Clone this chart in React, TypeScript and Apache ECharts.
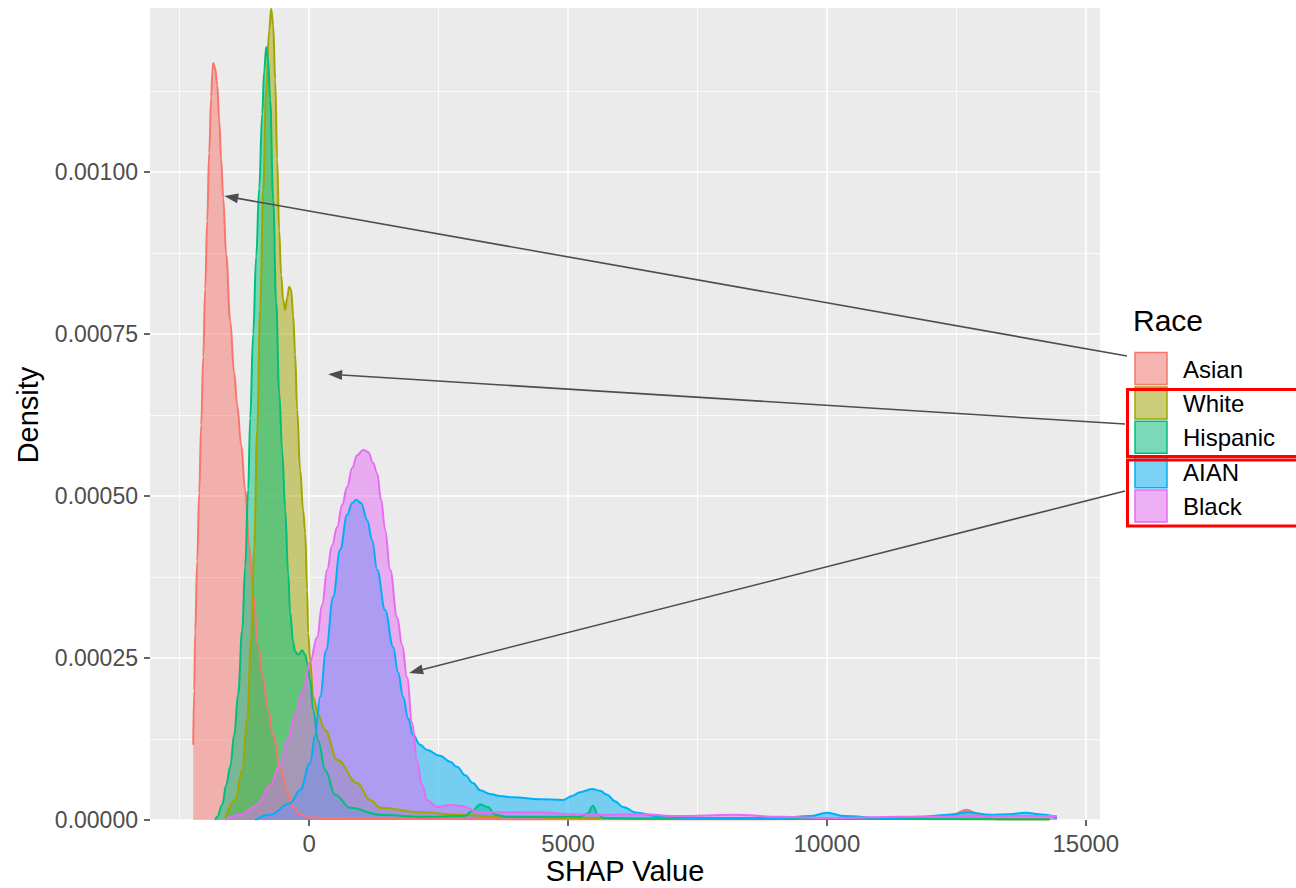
import React, { useEffect, useRef } from 'react';
import * as echarts from 'echarts';

const raceNames = ['Asian', 'White', 'Hispanic', 'AIAN', 'Black'];
const raceColors = ['#F8766D', '#A3A500', '#00BF7D', '#00B0F6', '#E76BF3'];
const raceFills = ['rgba(248,118,109,0.5)', 'rgba(163,165,0,0.5)', 'rgba(0,191,125,0.5)', 'rgba(0,176,246,0.5)', 'rgba(231,107,243,0.5)'];

const asianDensity = [
  [-2239, 116e-6], [-2220, 200e-6], [-2201, 290e-6], [-2162, 400e-6], [-2124, 505e-6], [-2085, 610e-6],
  [-2046, 715e-6], [-2008, 820e-6], [-1969, 925e-6], [-1931, 1030e-6], [-1892, 1115e-6], [-1870, 1155e-6],
  [-1853, 1168e-6], [-1815, 1160e-6], [-1776, 1134e-6], [-1737, 1080e-6], [-1699, 1019e-6], [-1660, 960e-6],
  [-1602, 872e-6], [-1525, 770e-6], [-1448, 690e-6], [-1390, 640e-6], [-1313, 579e-6], [-1236, 509e-6],
  [-1158, 424e-6], [-1081, 347e-6], [-985, 270e-6], [-888, 216e-6], [-792, 170e-6], [-695, 130e-6],
  [-560, 80e-6], [-425, 42e-6], [-290, 19e-6], [-174, 8e-6], [19, 4e-6], [405, 3e-6], [1500, 2e-6],
  [4000, 1e-6], [8000, 1e-6], [12000, 2e-6], [12450, 9e-6], [12700, 16e-6], [12950, 7e-6], [13300, 1e-6],
  [14300, 1e-6],
];

const whiteDensity = [
  [-1622, 3e-6], [-1429, 31e-6], [-1293, 77e-6], [-1197, 154e-6], [-1120, 278e-6], [-1062, 417e-6],
  [-1004, 602e-6], [-946, 787e-6], [-888, 972e-6], [-830, 1127e-6], [-772, 1219e-6], [-734, 1252e-6],
  [-695, 1227e-6], [-656, 1142e-6], [-618, 1019e-6], [-579, 910e-6], [-541, 841e-6], [-502, 802e-6],
  [-463, 787e-6], [-425, 806e-6], [-386, 823e-6], [-347, 818e-6], [-309, 779e-6], [-270, 718e-6],
  [-232, 633e-6], [-174, 540e-6], [-116, 478e-6], [-77, 443e-6], [-39, 355e-6], [-19, 289e-6], [19, 247e-6],
  [77, 190e-6], [174, 162e-6], [309, 139e-6], [541, 93e-6], [927, 57e-6], [1178, 31e-6], [1371, 19e-6],
  [2143, 12e-6], [2915, 8e-6], [3687, 5e-6], [5618, 3e-6], [14300, 1e-6],
];

const hispanicDensity = [
  [-1815, 0], [-1776, 5e-6], [-1680, 23e-6], [-1602, 54e-6], [-1525, 82e-6], [-1448, 131e-6], [-1371, 195e-6],
  [-1293, 293e-6], [-1236, 390e-6], [-1178, 510e-6], [-1139, 620e-6], [-1081, 750e-6], [-1023, 870e-6],
  [-965, 975e-6], [-907, 1090e-6], [-869, 1155e-6], [-830, 1193e-6], [-792, 1173e-6], [-753, 1111e-6],
  [-695, 957e-6], [-637, 800e-6], [-579, 660e-6], [-521, 570e-6], [-463, 480e-6], [-405, 380e-6],
  [-367, 320e-6], [-309, 275e-6], [-270, 260e-6], [-212, 255e-6], [-135, 262e-6], [-77, 255e-6],
  [-39, 244e-6], [19, 216e-6], [77, 170e-6], [174, 123e-6], [309, 77e-6], [502, 39e-6], [792, 19e-6],
  [1371, 8e-6], [2143, 5e-6], [3000, 6e-6], [3150, 14e-6], [3300, 24e-6], [3450, 20e-6], [3600, 8e-6],
  [3800, 5e-6], [5232, 5e-6], [5380, 10e-6], [5480, 22e-6], [5580, 8e-6], [5700, 3e-6], [6583, 2e-6],
  [14300, 1e-6],
];

const aianDensity = [
  [-1042, 0], [-753, 8e-6], [-367, 26e-6], [-174, 46e-6], [19, 88e-6], [116, 131e-6], [212, 190e-6],
  [328, 262e-6], [463, 344e-6], [598, 417e-6], [734, 471e-6], [830, 489e-6], [907, 494e-6], [1004, 489e-6],
  [1120, 463e-6], [1216, 432e-6], [1313, 386e-6], [1467, 324e-6], [1622, 267e-6], [1718, 228e-6],
  [1815, 190e-6], [1911, 157e-6], [2008, 131e-6], [2143, 116e-6], [2278, 108e-6], [2529, 99e-6],
  [2722, 90e-6], [2857, 82e-6], [3012, 69e-6], [3166, 57e-6], [3301, 46e-6], [3494, 40e-6], [3687, 37e-6],
  [3938, 35e-6], [4459, 32e-6], [4903, 31e-6], [5077, 37e-6], [5232, 43e-6], [5463, 48e-6], [5618, 45e-6],
  [5753, 39e-6], [5907, 29e-6], [6062, 20e-6], [6332, 11e-6], [6776, 5e-6], [7548, 3e-6], [8320, 3e-6],
  [9093, 3e-6], [9672, 6e-6], [10000, 11e-6], [10347, 6e-6], [11023, 3e-6], [11795, 5e-6], [12375, 8e-6],
  [12722, 12e-6], [13147, 8e-6], [13533, 9e-6], [13822, 11e-6], [14208, 8e-6], [14440, 3e-6],
];

const blackDensity = [
  [-1622, 0], [-1332, 8e-6], [-1004, 23e-6], [-753, 54e-6], [-560, 85e-6], [-425, 123e-6], [-270, 162e-6],
  [-116, 201e-6], [19, 244e-6], [154, 282e-6], [251, 332e-6], [347, 386e-6], [444, 424e-6], [541, 452e-6],
  [637, 486e-6], [734, 514e-6], [830, 543e-6], [927, 563e-6], [1042, 571e-6], [1139, 568e-6],
  [1236, 551e-6], [1313, 535e-6], [1390, 494e-6], [1467, 448e-6], [1564, 386e-6], [1699, 313e-6],
  [1795, 270e-6], [1892, 220e-6], [1988, 150e-6], [2085, 90e-6], [2181, 54e-6], [2278, 31e-6],
  [2471, 20e-6], [2722, 23e-6], [2915, 22e-6], [3301, 12e-6], [3880, 12e-6], [4459, 12e-6], [5039, 9e-6],
  [5618, 8e-6], [6390, 9e-6], [7162, 6e-6], [8185, 8e-6], [9093, 5e-6], [10058, 3e-6], [11409, 5e-6],
  [12375, 5e-6], [13340, 6e-6], [14440, 6e-6],
];

const densities = [asianDensity, whiteDensity, hispanicDensity, aianDensity, blackDensity];

const xRange = [-3074, 15274];
const yRange = [0, 0.001253];
const xTicks = [0, 5000, 10000, 15000];
const xMinorTicks = [-2500, 2500, 7500, 12500];
const yTicks = [0, 0.00025, 0.0005, 0.00075, 0.001];
const yMinorTicks = [0.000125, 0.000375, 0.000625, 0.000875, 0.001125];

// arrow targets in data coordinates (tips on curves)
const arrowTargets = [[-1641, 963e-6], [367, 688e-6], [1931, 227e-6]];

const FONT = '"Liberation Sans", Arial, Helvetica, sans-serif';

export default function App() {
  const ref = useRef<HTMLDivElement>(null);

  useEffect(() => {
    if (!ref.current) return;
    const chart = echarts.init(ref.current, undefined, { renderer: 'svg' });

    const gridLeft = 150, gridTop = 8, gridW = 950, gridH = 812;

    chart.setOption({
      animation: false,
      backgroundColor: '#FFFFFF',
      grid: {
        left: gridLeft, top: gridTop, width: gridW, height: gridH,
        show: true, backgroundColor: '#EBEBEB', borderWidth: 0,
      },
      xAxis: [
        {
          type: 'value', min: xRange[0], max: xRange[1], position: 'bottom',
          axisLine: { show: false, onZero: false },
          axisTick: { show: true, length: 6, customValues: xTicks, lineStyle: { color: '#333333', width: 1.5 } },
          axisLabel: {
            customValues: xTicks, margin: 11, fontSize: 24, color: '#4D4D4D', fontFamily: FONT,
            formatter: (v: number) => String(v),
          },
          splitLine: { show: true, lineStyle: { color: '#FFFFFF', width: 1.6 } },
        },
        {
          type: 'value', min: xRange[0], max: xRange[1], position: 'bottom',
          axisLine: { show: false, onZero: false },
          axisTick: { show: false, customValues: xMinorTicks },
          axisLabel: { show: false, customValues: xMinorTicks },
          splitLine: { show: true, lineStyle: { color: '#FFFFFF', width: 0.8 } },
        },
      ],
      yAxis: [
        {
          type: 'value', min: yRange[0], max: yRange[1], position: 'left',
          axisLine: { show: false, onZero: false },
          axisTick: { show: true, length: 6, customValues: yTicks, lineStyle: { color: '#333333', width: 1.5 } },
          axisLabel: {
            customValues: yTicks, margin: 12, fontSize: 23, color: '#4D4D4D', fontFamily: FONT,
            formatter: (v: number) => v.toFixed(5),
          },
          splitLine: { show: true, lineStyle: { color: '#FFFFFF', width: 1.6 } },
        },
        {
          type: 'value', min: yRange[0], max: yRange[1], position: 'left',
          axisLine: { show: false, onZero: false },
          axisTick: { show: false, customValues: yMinorTicks },
          axisLabel: { show: false, customValues: yMinorTicks },
          splitLine: { show: true, lineStyle: { color: '#FFFFFF', width: 0.8 } },
        },
      ],
      series: raceNames.map((name, i) => ({
        name,
        type: 'line',
        xAxisIndex: 0,
        yAxisIndex: 0,
        data: densities[i],
        smooth: 0.4,
        smoothMonotone: 'x',
        showSymbol: false,
        symbol: 'none',
        lineStyle: { color: raceColors[i], width: 2 },
        itemStyle: { color: raceColors[i] },
        areaStyle: { color: raceColors[i], opacity: 0.5 },
      })),
    });

    const arrowStarts = [[1127, 356], [1125, 424], [1125, 491]];
    const arrowEls: any[] = [];
    arrowTargets.forEach((t, i) => {
      const tip = chart.convertToPixel({ gridIndex: 0 }, t) as number[];
      const s = arrowStarts[i];
      const dx = tip[0] - s[0], dy = tip[1] - s[1];
      const len = Math.sqrt(dx * dx + dy * dy);
      const ux = dx / len, uy = dy / len;
      const L = 14, W = 5;
      const bx = tip[0] - ux * L, by = tip[1] - uy * L;
      arrowEls.push({
        type: 'line', silent: true, z: 100,
        shape: { x1: s[0], y1: s[1], x2: bx, y2: by },
        style: { stroke: '#4D4D4D', lineWidth: 1.6 },
      });
      arrowEls.push({
        type: 'polygon', silent: true, z: 100,
        shape: { points: [[tip[0], tip[1]], [bx - uy * W, by + ux * W], [bx + uy * W, by - ux * W]] },
        style: { fill: '#4D4D4D' },
      });
    });

    const legendEls: any[] = [];
    legendEls.push({
      type: 'text', left: 1133, top: 305,
      style: { text: 'Race', font: `30px ${FONT}`, fill: '#000000' },
    });
    raceNames.forEach((name, i) => {
      const top = 352 + i * 34.4;
      legendEls.push({
        type: 'rect', shape: { x: 1134.5, y: top, width: 33, height: 33 },
        style: { fill: '#F2F2F2' },
      });
      legendEls.push({
        type: 'rect', shape: { x: 1135, y: top + 0.5, width: 32, height: 32 },
        style: { fill: raceFills[i], stroke: raceColors[i], lineWidth: 1.5 },
      });
      legendEls.push({
        type: 'text', x: 1183, y: top + 17,
        style: { text: name, font: `24px ${FONT}`, fill: '#000000', textAlign: 'left', textVerticalAlign: 'middle' },
      });
    });
    legendEls.push({
      type: 'rect', shape: { x: 1127.5, y: 389.5, width: 180, height: 67 },
      style: { fill: 'none', stroke: '#FF0000', lineWidth: 3 },
    });
    legendEls.push({
      type: 'rect', shape: { x: 1127.5, y: 460, width: 180, height: 66 },
      style: { fill: 'none', stroke: '#FF0000', lineWidth: 3 },
    });

    const titleEls: any[] = [
      {
        type: 'text', x: 625, y: 871,
        style: { text: 'SHAP Value', font: `29px ${FONT}`, fill: '#000000', textAlign: 'center', textVerticalAlign: 'middle' },
      },
      {
        type: 'text', x: 28, y: 415, rotation: Math.PI / 2,
        style: { text: 'Density', font: `29px ${FONT}`, fill: '#000000', textAlign: 'center', textVerticalAlign: 'middle' },
      },
    ];

    chart.setOption({ graphic: [...titleEls, ...legendEls, ...arrowEls] });

    return () => chart.dispose();
  }, []);

  return (
    <div
      ref={ref}
      style={{ position: 'fixed', left: 0, top: 0, width: 1296, height: 888, background: '#FFFFFF' }}
    />
  );
}
